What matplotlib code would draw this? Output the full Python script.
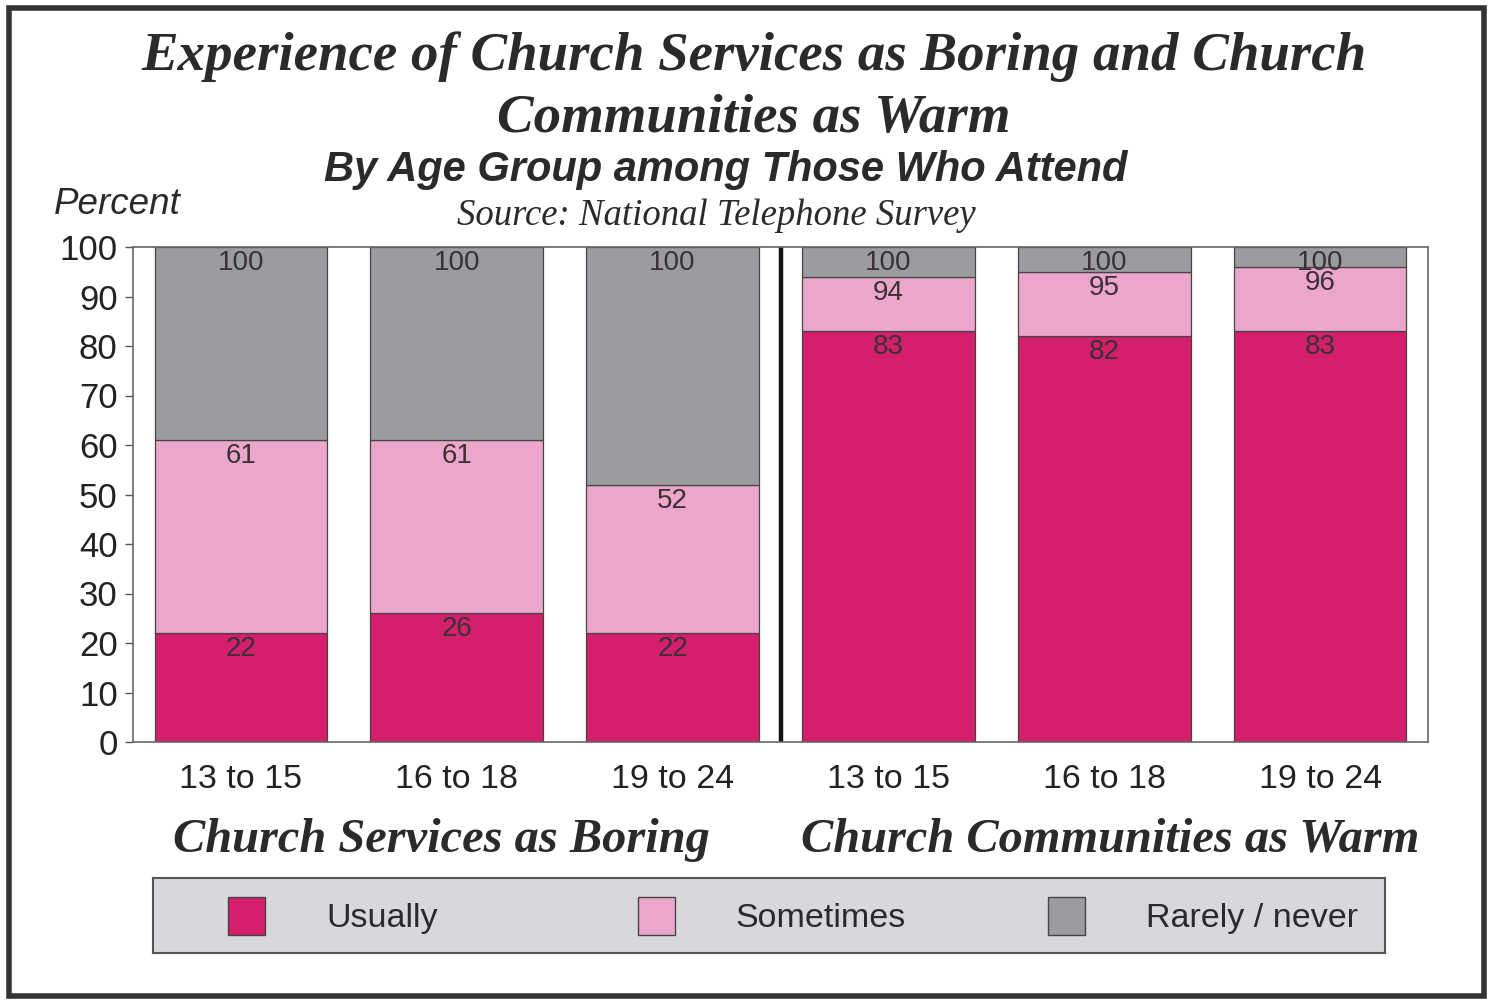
import numpy as np
import matplotlib
matplotlib.use("Agg")
import matplotlib.pyplot as plt
from matplotlib.patches import Rectangle

# values (percent, share of each answer)
age_groups = ["13 to 15", "16 to 18", "19 to 24", "13 to 15", "16 to 18", "19 to 24"]
usually = [22, 26, 22, 83, 82, 83]
sometimes = [39, 35, 30, 11, 13, 13]
rarely = [39, 39, 48, 6, 5, 4]
series_names = ["Usually", "Sometimes", "Rarely / never"]
group_names = ["Church Services as Boring", "Church Communities as Warm"]

colors = ["#D41F6C", "#ECA6CB", "#9B9CA0"]

fig = plt.figure(figsize=(14.93, 10), dpi=100)
fig.patch.set_facecolor("white")

ax = fig.add_axes([0.0891, 0.258, 0.8674, 0.495])
x = np.arange(len(age_groups))
bottom = np.zeros(len(x))
for vals, col in zip([usually, sometimes, rarely], colors):
    vals = np.array(vals)
    ax.bar(x, vals, width=0.8, bottom=bottom, color=col,
           edgecolor="#444444", linewidth=0.9)
    bottom = bottom + vals
    # cumulative label just under the top of each segment
    for xi, top in zip(x, bottom):
        ax.annotate(f"{top:.0f}", (xi, top), xytext=(0, -11.5),
                    textcoords="offset points", ha="center", va="center",
                    fontsize=20, color="#3a3035", family="Liberation Sans")

ax.set_xlim(-0.5, 5.5)
ax.set_ylim(0, 100)
ax.axvline(2.5, color="#111111", linewidth=3.2)
ax.set_yticks(range(0, 101, 10))
ax.set_xticks(x)
ax.set_xticklabels(age_groups)
ax.tick_params(axis="y", length=6, width=1, color="#555555", pad=5,
               labelsize=25, labelcolor="#222222")
ax.tick_params(axis="x", length=0, pad=15.5, labelsize=24.5, labelcolor="#222222")
for lab in ax.get_xticklabels() + ax.get_yticklabels():
    lab.set_family("Liberation Sans")
for sp in ax.spines.values():
    sp.set_color("#666666")
    sp.set_linewidth(1.2)

# titles
serif_bi = dict(family="Liberation Serif", weight="bold", style="italic", color="#2a2a2a")
fig.text(0.505, 0.943, "Experience of Church Services as Boring and Church",
         ha="center", va="center", fontsize=39.5, **serif_bi)
fig.text(0.505, 0.881, "Communities as Warm", ha="center", va="center",
         fontsize=39.5, **serif_bi)
fig.text(0.486, 0.830, "By Age Group among Those Who Attend", ha="center",
         va="center", fontsize=30, family="Liberation Sans", weight="bold",
         style="italic", color="#2a2a2a")
fig.text(0.480, 0.784, "Source: National Telephone Survey", ha="center",
         va="center", fontsize=26.5, family="Liberation Serif", style="italic",
         color="#2a2a2a")
fig.text(0.036, 0.795, "Percent", ha="left", va="center", fontsize=26.5,
         family="Liberation Sans", style="italic", color="#2a2a2a")

fig.text(0.2954, 0.160, group_names[0], ha="center", va="center",
         fontsize=34.8, **serif_bi)
fig.text(0.7438, 0.160, group_names[1], ha="center", va="center",
         fontsize=34.8, **serif_bi)

# legend box drawn by hand so the three entries sit at equal spacing
lax = fig.add_axes([0.1025, 0.047, 0.825, 0.075])
lax.set_facecolor("#D7D8DC")
lax.set_xlim(0, 1)
lax.set_ylim(0, 1)
lax.set_xticks([])
lax.set_yticks([])
for sp in lax.spines.values():
    sp.set_color("#555555")
    sp.set_linewidth(1.5)
for i, (name, col) in enumerate(zip(series_names, colors)):
    x0 = 0.0609 + i * 0.3328
    lax.add_patch(Rectangle((x0, 0.24), 0.030, 0.51, facecolor=col,
                            edgecolor="#444444", linewidth=1))
    lax.text(x0 + 0.0795, 0.46, name, ha="left", va="center", fontsize=24.5,
             family="Liberation Sans", color="#2a2a2a")

# outer frame of the figure
fig.add_artist(Rectangle((0.006, 0.004), 0.988, 0.988, transform=fig.transFigure,
                         fill=False, edgecolor="#333333", linewidth=4))

fig.savefig("out.png", dpi=100, facecolor=fig.get_facecolor())
